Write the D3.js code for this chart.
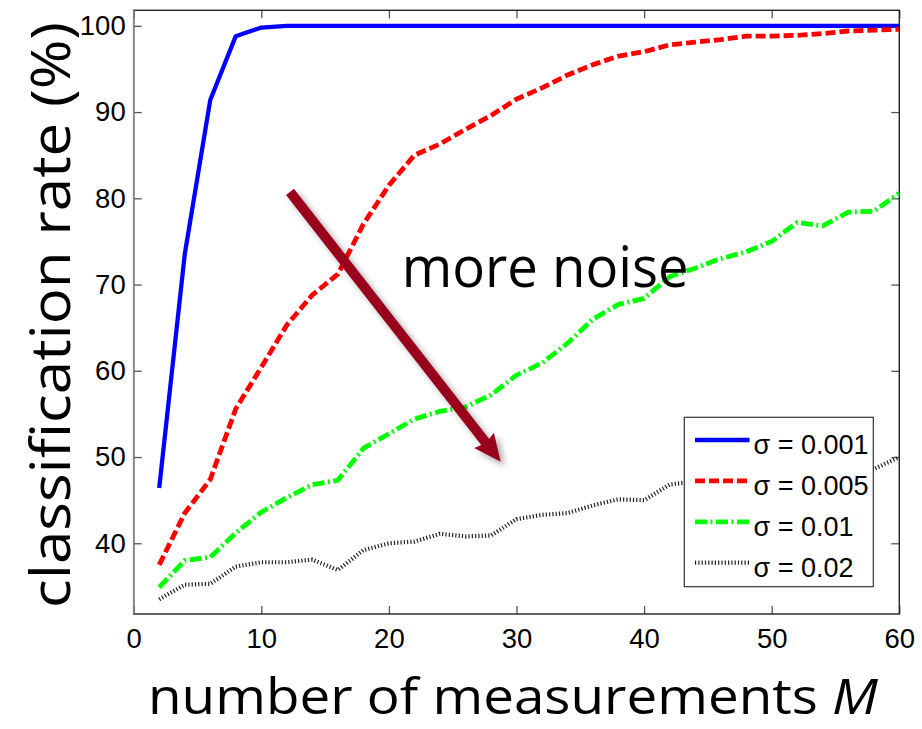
<!DOCTYPE html>
<html>
<head>
<meta charset="utf-8">
<script src="https://cdn.jsdelivr.net/npm/d3@7"></script>
<style>
  html, body { margin: 0; padding: 0; background: #fff; }
  svg { display: block; }
</style>
</head>
<body>
<svg id="chart" width="922" height="729"></svg>
<script>
// Number of measurements M (x values shared by all series)
const measurements = d3.range(2, 61, 2);

// Classification rate (%) for each noise level
const rateSigma001 = [46.4, 73.5, 91.4, 98.8, 99.8, 100, 100, 100, 100, 100,
  100, 100, 100, 100, 100, 100, 100, 100, 100, 100,
  100, 100, 100, 100, 100, 100, 100, 100, 100, 100];
const rateSigma005 = [37.5, 43.5, 47.4, 55.6, 60.4, 65.3, 68.8, 71.2, 77.0, 81.5,
  85.0, 86.3, 88.0, 89.6, 91.5, 92.8, 94.3, 95.5, 96.5, 97.0,
  97.8, 98.1, 98.4, 98.8, 98.8, 98.9, 99.1, 99.4, 99.5, 99.6];
const rateSigma01 = [34.9, 38.0, 38.4, 41.2, 43.6, 45.3, 46.8, 47.3, 51.0, 52.7,
  54.4, 55.3, 55.8, 57.2, 59.5, 60.9, 63.2, 66.0, 67.7, 68.4,
  70.9, 71.9, 73.0, 73.8, 75.0, 77.2, 76.8, 78.4, 78.5, 80.6];
const rateSigma02 = [33.5, 35.2, 35.3, 37.3, 37.8, 37.8, 38.1, 36.9, 39.2, 40.0,
  40.2, 41.1, 40.8, 40.9, 42.8, 43.3, 43.5, 44.4, 45.1, 45.0,
  46.8, 47.2, 47.4, 47.7, 47.9, 48.1, 48.3, 48.4, 48.6, 50.0];

const seriesLabels = ["σ = 0.001", "σ = 0.005", "σ = 0.01", "σ = 0.02"];
const xTicks = [0, 10, 20, 30, 40, 50, 60];
const yTicks = [40, 50, 60, 70, 80, 90, 100];

// Annotation: arrow from (M, rate) start to tip, and its caption
const arrowFrom = [12.25, 80.75];
const arrowTo = [28.76, 49.46];
const noteText = "more noise";
const notePos = [21.0, 69.74];

const xLabel = "number of measurements ";
const xLabelVar = "M";
const yLabel = "classification rate (%)";

// ---- layout ----
const plot = { left: 133.7, right: 899.3, top: 10.3, bottom: 614 };
const svg = d3.select("#chart");

const x = d3.scaleLinear().domain([0, 60]).range([plot.left, plot.right]);
const y = d3.scaleLinear().domain([31.8, 101.8]).range([plot.bottom, plot.top]);

const styles = [
  { color: "#0000ff", width: 4.3, dash: null },
  { color: "#ff0000", width: 4.8, dash: "10,4" },
  { color: "#00ff00", width: 4.8, dash: "12,3.5,2,3.5" },
  { color: "#222222", width: 4.2, dash: "1.2,2.1" }
];
const series = [rateSigma001, rateSigma005, rateSigma01, rateSigma02];

const defs = svg.append("defs");
defs.append("clipPath").attr("id", "plotClip")
  .append("rect")
  .attr("x", plot.left).attr("y", plot.top)
  .attr("width", plot.right - plot.left).attr("height", plot.bottom - plot.top);

const shadow = defs.append("filter").attr("id", "arrowShadow")
  .attr("x", "-20%").attr("y", "-20%").attr("width", "140%").attr("height", "140%");
shadow.append("feDropShadow")
  .attr("dx", 4).attr("dy", 4).attr("stdDeviation", 3)
  .attr("flood-color", "#000").attr("flood-opacity", 0.35);

// ---- axes (ticks point inward, box on all four sides) ----
const tickFont = "'Liberation Sans', Arial, Helvetica, sans-serif";

const gx = svg.append("g")
  .attr("transform", `translate(0,${plot.bottom})`)
  .call(d3.axisBottom(x).tickValues(xTicks).tickSize(-8).tickPadding(14).tickSizeOuter(0));
const gy = svg.append("g")
  .attr("transform", `translate(${plot.left},0)`)
  .call(d3.axisLeft(y).tickValues(yTicks).tickSize(-8).tickPadding(8).tickSizeOuter(0));
const gxTop = svg.append("g")
  .attr("transform", `translate(0,${plot.top})`)
  .call(d3.axisTop(x).tickValues(xTicks).tickSize(-8).tickFormat("").tickSizeOuter(0));
const gyRight = svg.append("g")
  .attr("transform", `translate(${plot.right},0)`)
  .call(d3.axisRight(y).tickValues(yTicks).tickSize(-8).tickFormat("").tickSizeOuter(0));

[gx, gy, gxTop, gyRight].forEach(g => {
  g.select(".domain").remove();
  g.selectAll(".tick line").attr("stroke", "#555").attr("stroke-width", 1.3);
  g.selectAll(".tick text")
    .attr("font-family", tickFont)
    .attr("font-size", 27.5)
    .attr("fill", "#000");
});
gx.selectAll(".tick text").attr("dy", "0.71em");

// frame
svg.append("rect")
  .attr("x", plot.left).attr("y", plot.top)
  .attr("width", plot.right - plot.left).attr("height", plot.bottom - plot.top)
  .attr("fill", "none").attr("stroke", "#222").attr("stroke-width", 1.4);
svg.append("line")
  .attr("x1", plot.left).attr("x2", plot.left)
  .attr("y1", plot.top).attr("y2", plot.bottom)
  .attr("stroke", "#888").attr("stroke-width", 1.6);

// ---- series lines ----
const line = d3.line()
  .x((d, i) => x(measurements[i]))
  .y(d => y(d));

const linesG = svg.append("g").attr("clip-path", "url(#plotClip)");
series.forEach((vals, k) => {
  linesG.append("path")
    .datum(vals)
    .attr("d", line)
    .attr("fill", "none")
    .attr("stroke", styles[k].color)
    .attr("stroke-width", styles[k].width)
    .attr("stroke-linejoin", "round")
    .attr("stroke-dasharray", styles[k].dash);
});

// ---- annotation: arrow and caption ----
const ax0 = x(arrowFrom[0]), ay0 = y(arrowFrom[1]);
const ax1 = x(arrowTo[0]), ay1 = y(arrowTo[1]);
const len = Math.hypot(ax1 - ax0, ay1 - ay0);
const ux = (ax1 - ax0) / len, uy = (ay1 - ay0) / len;
const px = -uy, py = ux;
const headLen = 27, headHalf = 12.5, shaftHalf = 5;
const bx = ax1 - headLen * ux, by = ay1 - headLen * uy;
const arrowPts = [
  [ax0 + shaftHalf * px, ay0 + shaftHalf * py],
  [bx + 2 * ux + shaftHalf * px, by + 2 * uy + shaftHalf * py],
  [bx + headHalf * px, by + headHalf * py],
  [ax1, ay1],
  [bx - headHalf * px, by - headHalf * py],
  [bx + 2 * ux - shaftHalf * px, by + 2 * uy - shaftHalf * py],
  [ax0 - shaftHalf * px, ay0 - shaftHalf * py]
];
svg.append("path")
  .attr("d", d3.line()(arrowPts) + "Z")
  .attr("fill", "#98001f")
  .attr("filter", "url(#arrowShadow)");

const labelFont = "'Open Sans', 'Noto Sans', sans-serif";
svg.append("text")
  .attr("x", x(notePos[0])).attr("y", y(notePos[1]))
  .attr("font-family", labelFont)
  .attr("font-size", 57)
  .attr("textLength", 287).attr("lengthAdjust", "spacingAndGlyphs")
  .attr("fill", "#000")
  .text(noteText);

// ---- legend ----
const legend = svg.append("g");
legend.append("rect")
  .attr("x", 684.3).attr("y", 417.3).attr("width", 189).attr("height", 169.4)
  .attr("fill", "#fff").attr("stroke", "#333").attr("stroke-width", 1.2);
seriesLabels.forEach((lab, k) => {
  const cy = 440 + k * 40.9;
  legend.append("line")
    .attr("x1", 695).attr("x2", 749.5).attr("y1", cy).attr("y2", cy)
    .attr("stroke", styles[k].color)
    .attr("stroke-width", styles[k].width)
    .attr("stroke-dasharray", styles[k].dash);
  legend.append("text")
    .attr("x", 753.5).attr("y", cy + 14)
    .attr("font-family", tickFont)
    .attr("font-size", 27)
    .attr("fill", "#000")
    .text(lab);
});

// ---- axis titles ----
const xt = svg.append("text")
  .attr("x", 148).attr("y", 714)
  .attr("font-family", labelFont)
  .attr("font-size", 50)
  .attr("textLength", 730).attr("lengthAdjust", "spacingAndGlyphs")
  .attr("fill", "#000");
xt.append("tspan").text(xLabel);
xt.append("tspan").attr("font-style", "italic").text(xLabelVar);

svg.append("text")
  .attr("transform", "translate(70,608) rotate(-90)")
  .attr("font-family", labelFont)
  .attr("font-size", 54)
  .attr("textLength", 586).attr("lengthAdjust", "spacingAndGlyphs")
  .attr("fill", "#000")
  .text(yLabel);
</script>
</body>
</html>
